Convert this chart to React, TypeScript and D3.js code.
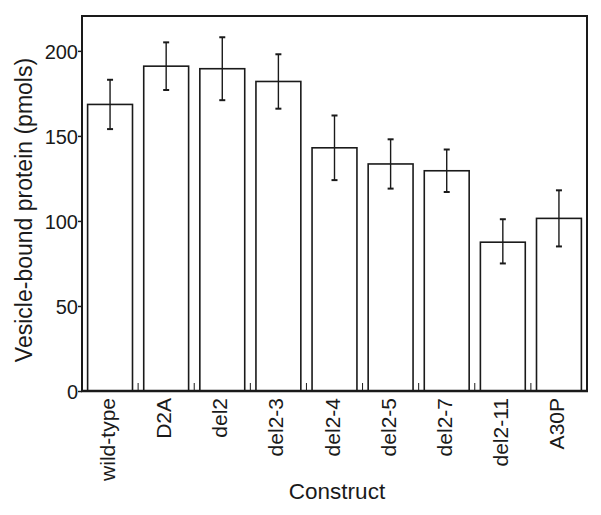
import * as d3 from "d3";
import { useEffect, useRef } from "react";

const constructs = ["wild-type", "D2A", "del2", "del2-3", "del2-4", "del2-5", "del2-7", "del2-11", "A30P"];
const means = [168.5, 191, 189.5, 182, 143, 133.5, 129.5, 87.5, 101.5];
const errHigh = [183, 205, 208, 198, 162, 148, 142, 101, 118];
const errLow = [154, 177, 171, 166, 124, 119, 117, 75, 85];
const yTicks = [0, 50, 100, 150, 200];

const App = () => {
  const ref = useRef<SVGSVGElement>(null);

  useEffect(() => {
    const svg = d3.select(ref.current);
    svg.selectAll("*").remove();

    const margin = { top: 16, right: 14, bottom: 124, left: 82 };
    const W = 601, H = 515;
    const width = W - margin.left - margin.right;
    const height = H - margin.top - margin.bottom;
    const ink = "#1a1a1a";
    const font = "'Liberation Sans', Arial, sans-serif";

    const g = svg.append("g").attr("transform", `translate(${margin.left},${margin.top})`);

    const x = d3.scaleBand().domain(constructs).range([0, width]).paddingInner(0.2).paddingOuter(0.1);
    const y = d3.scaleLinear().domain([0, 220.5]).range([height, 0]);

    const data = constructs.map((c, i) => ({ c, v: means[i], hi: errHigh[i], lo: errLow[i] }));

    // bars
    g.selectAll(".bar")
      .data(data)
      .enter()
      .append("rect")
      .attr("x", d => x(d.c)!)
      .attr("y", d => y(d.v))
      .attr("width", x.bandwidth())
      .attr("height", d => height - y(d.v))
      .attr("fill", "white")
      .attr("stroke", ink)
      .attr("stroke-width", 1.6);

    // error bars
    const cx = (d: { c: string }) => x(d.c)! + x.bandwidth() / 2;
    const eb = g.selectAll(".err").data(data).enter().append("g").attr("stroke", ink).attr("stroke-width", 1.4);
    eb.append("line").attr("x1", cx).attr("x2", cx).attr("y1", d => y(d.hi)).attr("y2", d => y(d.lo));
    eb.append("line").attr("x1", d => cx(d) - 3).attr("x2", d => cx(d) + 3).attr("y1", d => y(d.hi)).attr("y2", d => y(d.hi)).attr("stroke-width", 2);
    eb.append("line").attr("x1", d => cx(d) - 3).attr("x2", d => cx(d) + 3).attr("y1", d => y(d.lo)).attr("y2", d => y(d.lo)).attr("stroke-width", 2);

    // inner ticks between categories
    const step = x.step();
    const bounds = constructs.slice(1).map((_, i) => x(constructs[i])! + x.bandwidth() + (step - x.bandwidth()) / 2);
    g.selectAll(".minor")
      .data(bounds)
      .enter()
      .append("line")
      .attr("x1", d => d).attr("x2", d => d)
      .attr("y1", height).attr("y2", height - 8)
      .attr("stroke", ink)
      .attr("stroke-width", 1);

    // frame
    g.append("path")
      .attr("d", `M0,${height}V0H${width}V${height}`)
      .attr("fill", "none")
      .attr("stroke", ink)
      .attr("stroke-width", 2);
    g.append("line")
      .attr("x1", -1).attr("x2", width + 1)
      .attr("y1", height).attr("y2", height)
      .attr("stroke", ink)
      .attr("stroke-width", 2.5);

    // y axis
    const yAxis = g.append("g").call(d3.axisLeft(y).tickValues(yTicks).tickSize(4).tickFormat(d3.format("d")));
    yAxis.select(".domain").remove();
    yAxis.selectAll("line").attr("stroke", ink).attr("stroke-width", 1.5);
    yAxis.selectAll("text").attr("font-family", font).attr("font-size", 20).attr("fill", ink).attr("x", -4).attr("dy", "0.36em");

    // x labels
    g.selectAll(".xl")
      .data(constructs)
      .enter()
      .append("text")
      .attr("transform", d => `translate(${x(d)! + x.bandwidth() / 2 + 5},${height + 7}) rotate(-90)`)
      .attr("text-anchor", "end")
      .attr("font-family", font)
      .attr("font-size", 21)
      .attr("fill", ink)
      .text(d => d);

    // axis titles
    svg.append("text")
      .attr("transform", `translate(32,210) rotate(-90)`)
      .attr("text-anchor", "middle")
      .attr("font-family", font)
      .attr("font-size", 23)
      .attr("fill", ink)
      .text("Vesicle-bound protein (pmols)");

    svg.append("text")
      .attr("x", 337)
      .attr("y", 499)
      .attr("text-anchor", "middle")
      .attr("font-family", font)
      .attr("font-size", 22.5)
      .attr("fill", ink)
      .text("Construct");
  }, []);

  return <svg ref={ref} width={601} height={515} style={{ position: "absolute", left: 0, top: 0, background: "white" }} />;
};

export default App;
